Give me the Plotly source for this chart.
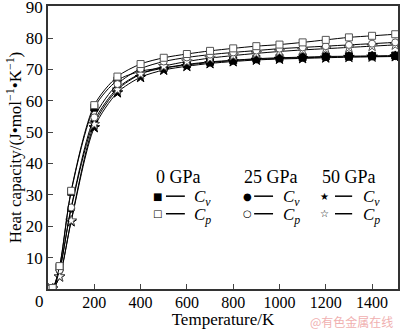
import plotly.graph_objects as go

T = [0, 20, 50, 100, 200, 300, 400, 500, 600, 700, 800, 900, 1000, 1100, 1200, 1300, 1400, 1500]
cv_0 = [0, 0.3, 7.0, 31.0, 57.8, 66.5, 69.4, 70.5, 71.6, 72.4, 72.9, 73.4, 73.7, 73.9, 74.1, 74.2, 74.3, 74.4]
cp_0 = [0, 0.3, 7.3, 31.3, 58.6, 67.7, 71.7, 73.7, 74.9, 75.9, 76.7, 77.4, 77.9, 78.6, 79.4, 80.2, 80.7, 81.2]
cv_25 = [0, 0.2, 5.9, 25.6, 53.5, 64.0, 68.6, 70.4, 71.4, 72.2, 72.8, 73.2, 73.5, 73.7, 73.9, 74.0, 74.1, 74.2]
cp_25 = [0, 0.2, 6.0, 26.0, 54.7, 65.3, 70.2, 72.5, 73.8, 74.7, 75.4, 76.0, 76.6, 77.0, 77.4, 77.8, 78.2, 78.6]
cv_50 = [0, 0.1, 3.9, 21.5, 51.5, 62.6, 67.5, 69.8, 71.0, 71.9, 72.5, 73.0, 73.3, 73.5, 73.7, 73.9, 74.0, 74.1]
cp_50 = [0, 0.1, 4.0, 21.8, 52.5, 63.5, 68.5, 71.0, 72.5, 73.6, 74.4, 75.1, 75.7, 76.2, 76.6, 77.0, 77.4, 77.8]

x_ticks = [200, 400, 600, 800, 1000, 1200, 1400]
y_ticks = [10, 20, 30, 40, 50, 60, 70, 80, 90]
pressures = ["0 GPa", "25 GPa", "50 GPa"]

FONT = "Liberation Serif"
series = [
    (cv_50, "star", "black", "black", 8),
    (cv_25, "circle", "black", "black", 7),
    (cv_0, "square", "black", "black", 7),
    (cp_50, "star", "white", "#555", 8),
    (cp_25, "circle", "white", "#555", 7),
    (cp_0, "square", "white", "#555", 7),
]

fig = go.Figure()
for ys, sym, fill, edge, sz in series:
    fig.add_trace(go.Scatter(
        x=T, y=ys, mode="lines+markers",
        line=dict(color="black", width=1, shape="spline", smoothing=0.8),
        marker=dict(symbol=sym, size=sz, color=fill, line=dict(color=edge, width=1)),
        showlegend=False, cliponaxis=True))

fig.update_layout(
    width=400, height=329,
    margin=dict(l=48, r=2, t=6, b=40),
    paper_bgcolor="white", plot_bgcolor="white",
    font=dict(family=FONT, size=17, color="black"),
    xaxis=dict(range=[0, 1512], tickvals=x_ticks, ticks="inside", ticklen=5,
               showline=True, linecolor="#333", linewidth=1.5, mirror=True,
               showgrid=False, zeroline=False, automargin=False,
               ticklabeloverflow="allow", ticklabelstandoff=-2,
               title=dict(text="Temperature/K", font=dict(size=17), standoff=0),
               tickfont=dict(size=16)),
    yaxis=dict(range=[0, 90.2], tickvals=y_ticks, ticks="inside", ticklen=5,
               showline=True, linecolor="#333", linewidth=1.5, mirror=True,
               showgrid=False, zeroline=False, automargin=False,
               ticklabeloverflow="allow",
               title=dict(text="Heat capacity/(J•mol<sup>−1</sup>•K<sup>−1</sup>)",
                          font=dict(size=17), standoff=0),
               tickfont=dict(size=17)),
)

# origin label
fig.add_annotation(x=-0.006, y=-0.005, xref="paper", yref="paper", text="0",
                   showarrow=False, xanchor="right", yanchor="top",
                   font=dict(family=FONT, size=17))

# custom legend (paper fractions)
title_x = [0.303, 0.554, 0.777]
mark_x = [0.314, 0.569, 0.789]
line_x = [(0.337, 0.391), (0.589, 0.643), (0.82, 0.869)]
text_x = [0.41, 0.667, 0.893]
row_y = [0.328, 0.266]
sym_txt = [("■", "□"), ("●", "○"), ("★", "☆")]
for i, p in enumerate(pressures):
    fig.add_annotation(x=title_x[i], y=0.396, xref="paper", yref="paper", text=p,
                       showarrow=False, xanchor="left", yanchor="middle",
                       font=dict(family=FONT, size=18))
    for r, lab in enumerate(["<i>C</i><sub><i>v</i></sub>", "<i>C</i><sub><i>p</i></sub>"]):
        fig.add_annotation(x=mark_x[i], y=row_y[r], xref="paper", yref="paper",
                           text=sym_txt[i][r], showarrow=False, xanchor="center",
                           yanchor="middle", font=dict(family="DejaVu Sans", size=10,
                                                       color="black"))
        fig.add_shape(type="line", xref="paper", yref="paper",
                      x0=line_x[i][0], x1=line_x[i][1], y0=row_y[r], y1=row_y[r],
                      line=dict(color="black", width=1.5))
        fig.add_annotation(x=text_x[i], y=row_y[r] - 0.008, xref="paper", yref="paper",
                           text=lab, showarrow=False, xanchor="left", yanchor="middle",
                           font=dict(family=FONT, size=17))

# watermark
fig.add_annotation(x=0.99, y=-0.116, xref="paper", yref="paper", text="@有色金属在线",
                   showarrow=False, xanchor="right", yanchor="middle",
                   font=dict(family="Noto Sans CJK SC", size=12, color="#f0b0b0"))

fig.write_html("out.html")
